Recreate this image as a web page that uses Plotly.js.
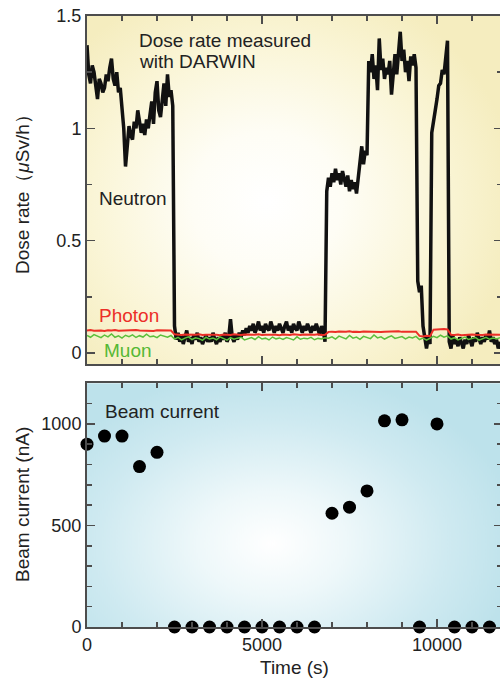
<!DOCTYPE html>
<html>
<head>
<meta charset="utf-8">
<script src="https://cdn.plot.ly/plotly-3.0.1.min.js"></script>
<style>
html,body{margin:0;padding:0;overflow:hidden;background:#fff;width:500px;height:679px;}
#chart{width:505px;height:679px;}
</style>
</head>
<body>
<div id="chart"></div>
<script>
// ---------- data ----------
const neutronTime = [
0,50,100,150,200,250,300,350,400,450,
500,550,600,650,700,750,800,850,900,950,
1000,1050,1100,1150,1200,1250,1300,1350,1400,1450,
1500,1550,1600,1650,1700,1750,1800,1850,1900,1950,
2000,2050,2100,2150,2200,2250,2300,2350,2400,2450,
2500,2550,2600,2650,2700,2750,2800,2850,2900,2950,
3000,3050,3100,3150,3200,3250,3300,3350,3400,3450,
3500,3550,3600,3650,3700,3750,3800,3850,3900,3950,
4000,4050,4100,4150,4200,4250,4300,4350,4400,4450,
4500,4550,4600,4650,4700,4750,4800,4850,4900,4950,
5000,5050,5100,5150,5200,5250,5300,5350,5400,5450,
5500,5550,5600,5650,5700,5750,5800,5850,5900,5950,
6000,6050,6100,6150,6200,6250,6300,6350,6400,6450,
6500,6550,6600,6650,6700,6750,6800,
6850,6900,6950,7000,7050,7100,7150,7200,7250,7300,
7350,7400,7450,7500,7550,7600,7650,7700,7750,7800,
7850,7900,7950,8000,
8050,8100,8150,8200,8250,8300,8350,8400,8450,8500,
8550,8600,8650,8700,8750,8800,8850,8900,8950,9000,
9050,9100,9150,9200,9250,9300,9350,9400,
9450,9500,9550,9600,9650,9700,9750,9800,
9850,9900,9950,10000,10050,10100,10150,10200,10250,10300,
10350,10400,10450,10500,10550,10600,10650,10700,10750,10800,
10850,10900,10950,11000,11050,11100,11150,11200,11250,11300,
11350,11400,11450,11500,11550,11600,11650,11700,11750,11800
];
const neutronDose = [
1.37,1.24,1.20,1.28,1.25,1.17,1.13,1.22,1.20,1.16,
1.18,1.24,1.21,1.27,1.31,1.22,1.19,1.25,1.16,1.18,
1.08,1.00,0.83,0.93,1.01,0.97,0.95,1.03,1.00,1.08,
1.04,0.98,1.02,0.97,1.04,1.00,1.06,1.12,1.02,1.16,
1.21,1.08,1.05,1.13,1.20,1.10,1.24,1.14,1.17,1.10,
0.12,0.06,0.09,0.05,0.08,0.04,0.07,0.10,0.05,0.07,
0.04,0.08,0.06,0.09,0.05,0.07,0.04,0.06,0.08,0.05,
0.07,0.05,0.09,0.06,0.04,0.07,0.05,0.08,0.06,0.09,
0.05,0.07,0.15,0.07,0.05,0.08,0.06,0.09,0.07,0.10,
0.08,0.11,0.09,0.12,0.10,0.13,0.09,0.11,0.14,0.10,
0.12,0.09,0.13,0.11,0.10,0.14,0.11,0.09,0.12,0.10,
0.13,0.11,0.09,0.12,0.14,0.10,0.12,0.09,0.13,0.11,
0.10,0.14,0.11,0.09,0.12,0.10,0.13,0.11,0.09,0.12,
0.10,0.13,0.11,0.08,0.12,0.10,0.05,
0.72,0.78,0.74,0.80,0.76,0.82,0.77,0.80,0.75,0.81,
0.78,0.74,0.79,0.72,0.77,0.73,0.76,0.71,0.78,0.86,
0.92,0.84,0.90,0.88,
1.30,1.25,1.33,1.22,1.28,1.17,1.40,1.26,1.31,1.22,
1.27,1.24,1.30,1.15,1.27,1.33,1.24,1.36,1.43,1.30,
1.35,1.25,1.30,1.21,1.32,1.28,1.33,1.27,
0.32,0.27,0.30,0.12,0.06,0.02,0.07,0.04,
0.98,1.02,1.08,1.13,1.19,1.20,1.26,1.24,1.33,1.39,
0.05,0.02,0.08,0.04,0.06,0.03,0.07,0.05,0.02,0.06,
0.04,0.08,0.05,0.03,0.07,0.05,0.09,0.06,0.04,0.07,
0.05,0.08,0.06,0.10,0.05,0.07,0.04,0.06,0.02,0.05
];
const coarseTime = [
0,100,200,300,400,500,600,700,800,900,
1000,1100,1200,1300,1400,1500,1600,1700,1800,1900,
2000,2100,2200,2300,2400,
2500,2600,2700,2800,2900,3000,3100,3200,3300,3400,
3500,3600,3700,3800,3900,4000,4100,4200,4300,4400,
4500,4600,4700,4800,4900,5000,5100,5200,5300,5400,
5500,5600,5700,5800,5900,6000,6100,6200,6300,6400,
6500,6600,6700,6800,
6900,7000,7100,7200,7300,7400,7500,7600,7700,7800,
7900,8000,8100,8200,8300,8400,8500,8600,8700,8800,
8900,9000,9100,9200,9300,9400,
9500,9600,9700,9800,
9900,10000,10100,10200,10300,
10400,10500,10600,10700,10800,10900,11000,11100,11200,11300,
11400,11500,11600,11700,11800
];
const photonDose = [
0.100,0.102,0.099,0.101,0.100,0.098,0.101,0.100,0.102,0.099,
0.100,0.101,0.099,0.100,0.102,0.100,0.099,0.101,0.100,0.098,
0.101,0.100,0.102,0.099,0.100,
0.083,0.081,0.080,0.082,0.081,0.079,0.081,0.083,0.080,0.081,
0.082,0.080,0.081,0.079,0.082,0.081,0.080,0.083,0.081,0.080,
0.082,0.081,0.079,0.081,0.083,0.080,0.081,0.082,0.080,0.081,
0.079,0.082,0.081,0.080,0.083,0.081,0.080,0.082,0.081,0.079,
0.081,0.083,0.080,0.081,
0.094,0.095,0.093,0.096,0.094,0.095,0.097,0.094,0.095,0.093,
0.096,0.095,0.094,0.096,0.095,0.093,0.095,0.096,0.094,0.095,
0.097,0.094,0.095,0.093,0.096,0.095,
0.076,0.074,0.077,0.075,
0.104,0.106,0.105,0.107,0.105,
0.081,0.080,0.082,0.079,0.081,0.080,0.082,0.081,0.079,0.080,
0.082,0.081,0.080,0.079,0.081
];
const muonDose = [
0.078,0.070,0.082,0.074,0.068,0.080,0.072,0.085,0.070,0.076,
0.066,0.079,0.073,0.081,0.069,0.077,0.071,0.084,0.072,0.075,
0.068,0.080,0.074,0.070,0.078,
0.062,0.070,0.058,0.066,0.072,0.060,0.068,0.064,0.056,0.070,
0.062,0.067,0.059,0.072,0.063,0.057,0.068,0.061,0.066,0.070,
0.058,0.064,0.069,0.060,0.073,0.062,0.066,0.058,0.071,0.063,
0.067,0.060,0.069,0.064,0.058,0.072,0.061,0.066,0.063,0.070,
0.059,0.065,0.062,0.068,
0.066,0.072,0.062,0.075,0.068,0.063,0.078,0.066,0.071,0.061,
0.074,0.069,0.064,0.080,0.067,0.072,0.062,0.070,0.076,0.065,
0.069,0.073,0.063,0.071,0.067,0.074,
0.060,0.066,0.057,0.064,
0.074,0.068,0.079,0.070,0.076,
0.062,0.068,0.058,0.066,0.071,0.060,0.065,0.069,0.057,0.064,
0.070,0.061,0.067,0.063,0.068
];
const beamTime = [0,500,1000,1500,2000,2500,3000,3500,4000,4500,5000,5500,6000,6500,7000,7500,8000,8500,9000,9500,10000,10500,11000,11500];
const beamCurrent = [900,940,940,790,860,0,0,0,0,0,0,0,0,0,560,590,670,1015,1020,0,1000,0,0,0];

const xTickVals = [0,5000,10000];
const xTickText = ['0','5000','10000'];

// ---------- layout helpers ----------
const L=87, R=3, T=16, B=52, W=505, H=679;
const PW=W-L-R, PH=H-T-B;
const px2x = p => (p-L)/PW;
const px2y = p => (H-B-p)/PH;
const topDom = [px2y(364), 1];
const botDom = [0, px2y(383.3)];

function gradImg(w,h,cx,cy,rx,ry,stops){
  const c=document.createElement('canvas'); c.width=w; c.height=h;
  const g=c.getContext('2d');
  g.fillStyle=stops[stops.length-1][1]; g.fillRect(0,0,w,h);
  g.save(); g.translate(cx,cy); g.scale(rx/ry,1);
  const gr=g.createRadialGradient(0,0,0,0,0,ry);
  stops.forEach(s=>gr.addColorStop(s[0],s[1]));
  g.fillStyle=gr; g.fillRect(-cx*ry/rx - 10, -cy-10, w*ry/rx+20, h+20);
  g.restore();
  return c.toDataURL('image/png');
}
const topImg = gradImg(415,348,180,185,250,230,[[0,'#ffffff'],[0.3,'#fefdf5'],[0.7,'#faf5d6'],[1,'#f5edbf']]);
const botImg = gradImg(415,244,185,160,250,175,[[0,'#ffffff'],[0.3,'#eef8fa'],[0.7,'#cfeaf1'],[1,'#bde2eb']]);

const axisCol='#4d4d4d', txtCol='#222';
const tickFont={family:'Liberation Sans, Arial, sans-serif', size:18, color:txtCol};
const common = {showline:true, linecolor:axisCol, linewidth:2, ticks:'inside', tickcolor:axisCol,
  tickwidth:1.5, showgrid:false, zeroline:false, mirror:'ticks', tickfont:tickFont, fixedrange:true};

const traces = [
  {x:neutronTime, y:neutronDose, xaxis:'x2', yaxis:'y2', type:'scatter', mode:'lines',
   line:{color:'#111', width:3.5}, hoverinfo:'skip'},
  {x:coarseTime, y:muonDose, xaxis:'x2', yaxis:'y2', type:'scatter', mode:'lines',
   line:{color:'#5cbf3c', width:1.5}, hoverinfo:'skip'},
  {x:coarseTime, y:photonDose, xaxis:'x2', yaxis:'y2', type:'scatter', mode:'lines',
   line:{color:'#ec2f27', width:2}, hoverinfo:'skip'},
  {x:beamTime, y:beamCurrent, xaxis:'x', yaxis:'y', type:'scatter', mode:'markers',
   marker:{color:'#000', size:13}, cliponaxis:false, hoverinfo:'skip'}
];

const annFont = (c)=>({family:'Liberation Sans, Arial, sans-serif', size:19, color:c||txtCol});
function ann(text, px, py, opts){
  return Object.assign({text:text, xref:'paper', yref:'paper', x:px2x(px), y:px2y(py),
    xanchor:'left', yanchor:'middle', showarrow:false, font:annFont()}, opts||{});
}

const layout = {
  width:W, height:H, margin:{l:L,r:R,t:T,b:B}, showlegend:false,
  paper_bgcolor:'#fff', plot_bgcolor:'rgba(0,0,0,0)',
  xaxis: Object.assign({}, common, {anchor:'y', domain:[0,1], range:[0,11857],
    tickvals:xTickVals, ticktext:xTickText, ticklen:8,
    minor:{dtick:1000, tick0:0, ticklen:5, ticks:'inside', tickcolor:axisCol, tickwidth:1.5}}),
  yaxis: Object.assign({}, common, {anchor:'x', domain:botDom, range:[0,1200], dtick:500, tick0:0, ticklen:8,
    minor:{dtick:100, tick0:0, ticklen:5, ticks:'inside', tickcolor:axisCol, tickwidth:1.5}}),
  xaxis2: Object.assign({}, common, {anchor:'y2', domain:[0,1], range:[0,11857],
    tickvals:xTickVals, showticklabels:false, ticklen:8,
    minor:{dtick:1000, tick0:0, ticklen:5, ticks:'inside', tickcolor:axisCol, tickwidth:1.5}}),
  yaxis2: Object.assign({}, common, {anchor:'x2', domain:topDom, range:[-0.049,1.5], dtick:0.5, tick0:0, ticklen:8,
    minor:{dtick:0.25, tick0:0, ticklen:5, ticks:'inside', tickcolor:axisCol, tickwidth:1.5}}),
  images:[
    {source:topImg, xref:'paper', yref:'paper', x:0, y:topDom[1], sizex:1, sizey:topDom[1]-topDom[0],
     xanchor:'left', yanchor:'top', sizing:'stretch', layer:'below'},
    {source:botImg, xref:'paper', yref:'paper', x:0, y:botDom[1], sizex:1, sizey:botDom[1]-botDom[0],
     xanchor:'left', yanchor:'top', sizing:'stretch', layer:'below'}
  ],
  annotations:[
    ann('Dose rate measured', 136.7, 40),
    ann('with DARWIN', 136.7, 61.5),
    ann('Neutron', 97, 199),
    ann('Photon', 97, 315, {font:annFont('#ec2f27')}),
    ann('Muon', 102, 350, {font:annFont('#55b834')}),
    ann('Beam current', 103, 411),
    ann('Dose rate（<i>μ</i>Sv/h）', 22, 190, {xanchor:'center', textangle:-90}),
    ann('Beam current (nA)', 22, 505, {xanchor:'center', textangle:-90}),
    ann('Time (s)', 294.5, 667, {xanchor:'center'})
  ]
};

Plotly.newPlot('chart', traces, layout, {displayModeBar:false, staticPlot:true});
</script>
</body>
</html>
